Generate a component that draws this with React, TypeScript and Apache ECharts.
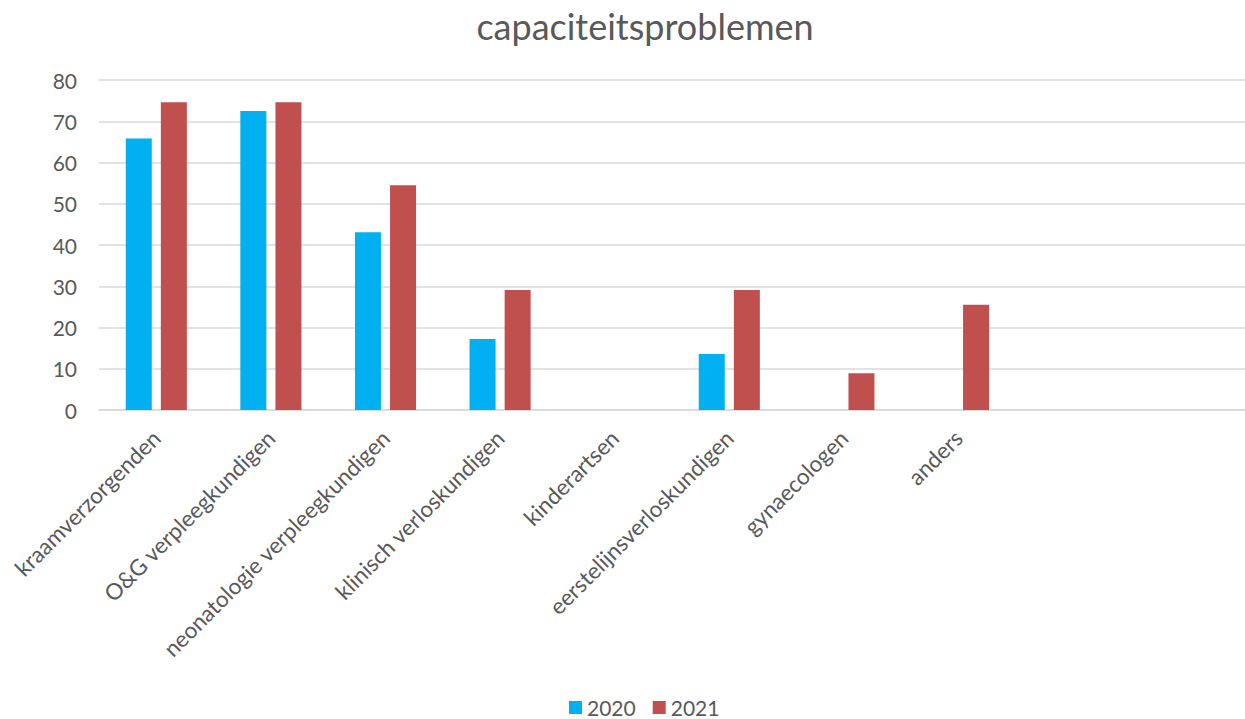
import React, { useEffect, useRef } from "react";
import * as echarts from "echarts";

const categories = [
  "kraamverzorgenden",
  "O&G verpleegkundigen",
  "neonatologie verpleegkundigen",
  "klinisch verloskundigen",
  "kinderartsen",
  "eerstelijnsverloskundigen",
  "gynaecologen",
  "anders",
  "",
  "",
];
const values2020 = [65.8, 72.5, 43.1, 17.2, 0, 13.6, 0, 0, 0, 0];
const values2021 = [74.6, 74.6, 54.5, 29.1, 0, 29.1, 8.9, 25.5, 0, 0];
const seriesNames = ["2020", "2021"];
const yTicks = { min: 0, max: 80, interval: 10 };

const FONT = "Lato, 'Open Sans', sans-serif";
const TEXT = "#595959";

export default function App() {
  const ref = useRef<HTMLDivElement>(null);
  useEffect(() => {
    if (!ref.current) return;
    const chart = echarts.init(ref.current, undefined, { renderer: "svg" });
    chart.setOption({
      animation: false,
      backgroundColor: "#ffffff",
      textStyle: { fontFamily: FONT, color: TEXT },
      title: {
        text: "capaciteitsproblemen",
        left: 640,
        top: 3,
        textAlign: "center",
        textStyle: { fontFamily: FONT, fontSize: 36, fontWeight: "normal", color: TEXT },
      },
      legend: {
        data: seriesNames,
        left: 569,
        top: 697,
        itemWidth: 13,
        itemHeight: 13,
        itemGap: 17,
        icon: "rect",
        padding: 0,
        textStyle: { fontFamily: FONT, fontSize: 21, color: TEXT },
      },
      grid: { left: 99, top: 80, width: 1161, height: 330, containLabel: false },
      xAxis: {
        type: "category",
        data: categories,
        axisLine: { show: true, lineStyle: { color: "#d9d9d9", width: 1.5 } },
        axisTick: { show: false },
        axisLabel: {
          interval: 0,
          rotate: 45,
          margin: 24,
          fontFamily: FONT,
          fontSize: 22.5,
          color: TEXT,
        },
      },
      yAxis: {
        type: "value",
        min: yTicks.min,
        max: yTicks.max,
        interval: yTicks.interval,
        axisLine: { show: false },
        axisTick: { show: false },
        splitLine: { lineStyle: { color: "#d9d9d9", width: 1.5 } },
        axisLabel: { margin: 22, fontFamily: FONT, fontSize: 21, color: TEXT },
      },
      series: [
        {
          name: seriesNames[0],
          type: "bar",
          data: values2020,
          barWidth: 26,
          barGap: "35%",
          itemStyle: { color: "#00B0F0" },
        },
        {
          name: seriesNames[1],
          type: "bar",
          data: values2021,
          barWidth: 26,
          barGap: "35%",
          itemStyle: { color: "#C0504D" },
        },
      ],
    });
    return () => chart.dispose();
  }, []);
  return (
    <div
      ref={ref}
      style={{ position: "absolute", left: 0, top: 0, width: 1245, height: 719 }}
    />
  );
}
